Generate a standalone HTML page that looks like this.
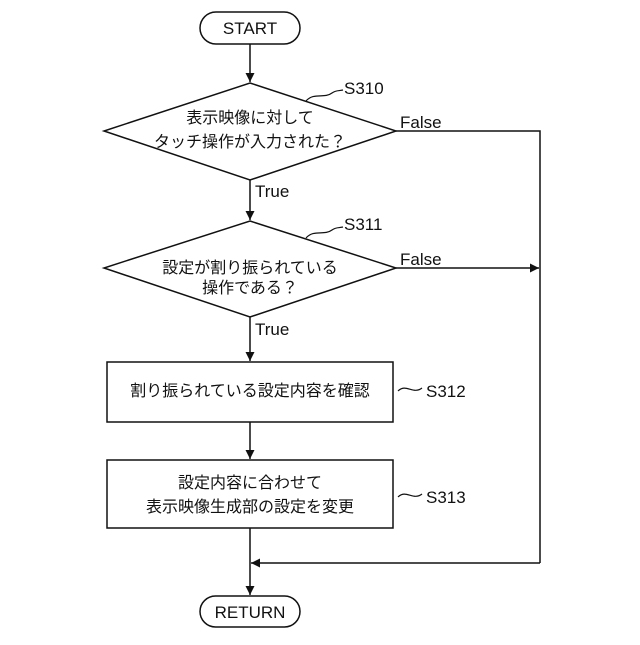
<!DOCTYPE html>
<html><head><meta charset="utf-8"><style>
html,body{margin:0;padding:0;background:#fff;}
svg text{font-family:"Liberation Sans","Noto Sans CJK JP",sans-serif;fill:#111;}
</style></head><body>
<svg width="640" height="640" viewBox="0 0 640 640" xmlns="http://www.w3.org/2000/svg">
<defs><marker id="a" viewBox="0 0 10 10" refX="10" refY="5" markerWidth="9" markerHeight="9" orient="auto" markerUnits="userSpaceOnUse"><path d="M0,0 L10,5 L0,10 z" fill="#111"/></marker></defs>
<g stroke="#111" stroke-width="1.5" fill="none">
<rect x="200" y="12" width="100" height="32" rx="16"/>
<line x1="250" y1="44" x2="250" y2="82" marker-end="url(#a)"/>
<polygon points="250,83 396,131 250,180 104,131"/>
<line x1="250" y1="180" x2="250" y2="220" marker-end="url(#a)"/>
<polygon points="250,221 396,268 250,317 104,268"/>
<line x1="250" y1="317" x2="250" y2="361" marker-end="url(#a)"/>
<rect x="107" y="362" width="286" height="60"/>
<line x1="250" y1="422" x2="250" y2="459" marker-end="url(#a)"/>
<rect x="107" y="460" width="286" height="68"/>
<line x1="250" y1="528" x2="250" y2="595" marker-end="url(#a)"/>
<rect x="200" y="596" width="100" height="31" rx="15.5"/>
<polyline points="396,131 540,131 540,563"/>
<line x1="396" y1="268" x2="539" y2="268" marker-end="url(#a)"/>
<line x1="540" y1="563" x2="251" y2="563" marker-end="url(#a)"/>
<path d="M306,101 C314,92 324,99 332,93 C336,90 339,91 343,90" stroke-width="1.2"/>
<path d="M306,238 C314,229 324,236 332,230 C336,227 339,228 343,227" stroke-width="1.2"/>
<path d="M398,391 C406,383 413,395 422,388" stroke-width="1.2"/>
<path d="M398,497 C406,489 413,501 422,494" stroke-width="1.2"/>
</g>
<g font-size="17">
<text x="250" y="34" text-anchor="middle">START</text>
<text x="250" y="618" text-anchor="middle">RETURN</text>
<text x="344" y="94">S310</text>
<text x="344" y="230">S311</text>
<text x="426" y="397">S312</text>
<text x="426" y="503">S313</text>
<text x="400" y="128">False</text>
<text x="400" y="265">False</text>
<text x="255" y="197">True</text>
<text x="255" y="335">True</text>
</g>
<g font-size="16" text-anchor="middle">
<text x="250" y="123">表示映像に対して</text>
<text x="250" y="147">タッチ操作が入力された？</text>
<text x="250" y="273">設定が割り振られている</text>
<text x="250" y="293">操作である？</text>
<text x="250" y="396">割り振られている設定内容を確認</text>
<text x="250" y="488">設定内容に合わせて</text>
<text x="250" y="512">表示映像生成部の設定を変更</text>
</g>
</svg>
</body></html>
